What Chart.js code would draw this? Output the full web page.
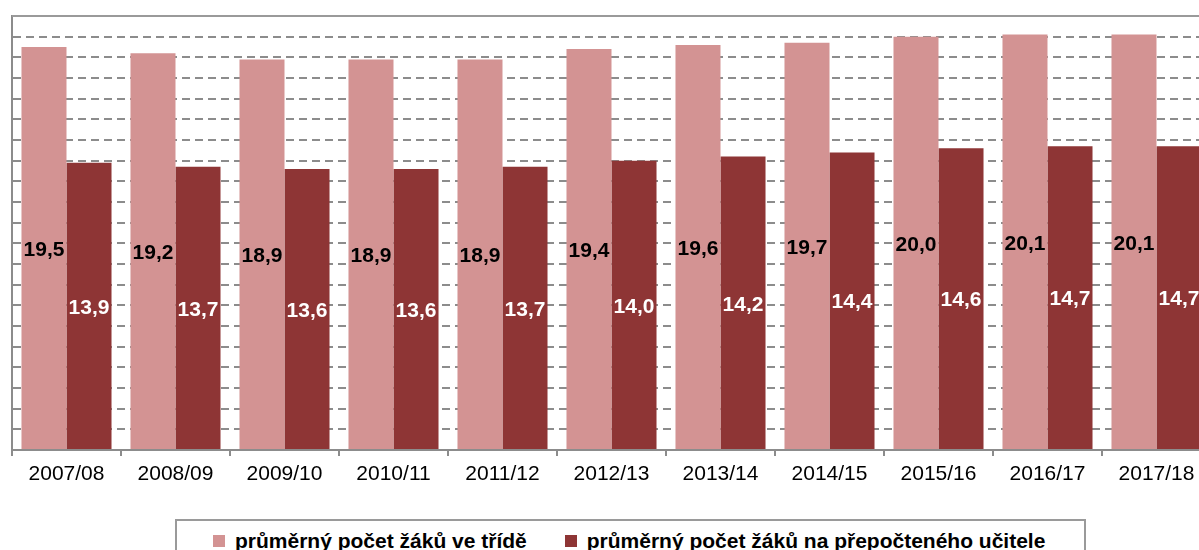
<!DOCTYPE html>
<html>
<head>
<meta charset="utf-8">
<script src="https://cdn.jsdelivr.net/npm/chart.js@4/dist/chart.umd.min.js"></script>
<style>
    html, body { margin: 0; padding: 0; background: #fff; overflow: hidden; width: 1199px; height: 550px; }
    #wrap { position: absolute; left: 0; top: 0; width: 1212px; height: 500px; }
    #legend {
        position: absolute; left: 175px; top: 519px; width: 911px; height: 40px;
        border: 2px solid #9a9a9a; box-sizing: border-box;
        display: flex; align-items: center; padding-left: 36px; padding-top: 4px;
        font-family: "Liberation Sans", Arial, sans-serif; font-weight: bold; font-size: 21px; color: #000;
    }
    #legend .item { display: flex; align-items: center; margin-right: 38px; white-space: nowrap; }
    #legend .box { width: 12px; height: 12px; margin-right: 10px; }
</style>
</head>
<body>
<div id="wrap"><canvas id="chart"></canvas></div>
<div id="legend"></div>
<script>
    // Data
    const years = ['2007/08', '2008/09', '2009/10', '2010/11', '2011/12', '2012/13',
        '2013/14', '2014/15', '2015/16', '2016/17', '2017/18'];
    const perClass = [19.5, 19.2, 18.9, 18.9, 18.9, 19.4, 19.6, 19.7, 20.0, 20.1, 20.1];
    const perTeacher = [13.9, 13.7, 13.6, 13.6, 13.7, 14.0, 14.2, 14.4, 14.6, 14.7, 14.7];
    const seriesNames = ['průměrný počet žáků ve třídě', 'průměrný počet žáků na přepočteného učitele'];
    const seriesColors = ['#d39393', '#8e3535'];
    const labelColors = ['#000000', '#ffffff'];

    // value labels in the middle of every bar
    const barLabels = {
        id: 'barLabels',
        afterDatasetsDraw: function (chart) {
            const ctx = chart.ctx;
            ctx.save();
            ctx.font = 'bold 21px "Liberation Sans", Arial, sans-serif';
            ctx.textAlign = 'center';
            ctx.textBaseline = 'middle';
            chart.data.datasets.forEach((ds, i) => {
                chart.getDatasetMeta(i).data.forEach((bar, j) => {
                    ctx.fillStyle = labelColors[i];
                    const txt = ds.data[j].toFixed(1).replace('.', ',');
                    ctx.fillText(txt, bar.x, (bar.y + bar.base) / 2 + 2);
                });
            });
            ctx.restore();
        }
    };

    // solid frame line on top of the plot
    const topLine = {
        id: 'topLine',
        afterDraw: function (chart) {
            const a = chart.chartArea;
            const ctx = chart.ctx;
            ctx.save();
            ctx.strokeStyle = '#9a9a9a';
            ctx.lineWidth = 2;
            ctx.beginPath();
            ctx.moveTo(a.left, a.top);
            ctx.lineTo(a.right, a.top);
            ctx.stroke();
            ctx.restore();
        }
    };

    new Chart(document.getElementById('chart'), {
        type: 'bar',
        data: {
            labels: years,
            datasets: [
                { label: seriesNames[0], data: perClass, backgroundColor: seriesColors[0] },
                { label: seriesNames[1], data: perTeacher, backgroundColor: seriesColors[1] },
            ]
        },
        options: {
            responsive: true,
            maintainAspectRatio: false,
            animation: false,
            layout: { padding: { left: 12, top: 16, right: 1, bottom: 0 } },
            datasets: { bar: { barPercentage: 1, categoryPercentage: 0.826 } },
            plugins: { legend: { display: false }, tooltip: { enabled: false } },
            scales: {
                x: {
                    afterFit: (axis) => { axis.height = 50; },
                    grid: { drawOnChartArea: false, drawTicks: true, tickLength: 6, color: '#8c8c8c', lineWidth: 2 },
                    border: { display: true, color: '#8c8c8c', width: 2 },
                    ticks: {
                        color: '#000',
                        padding: 6,
                        maxRotation: 0,
                        font: { family: '"Liberation Sans", Arial, sans-serif', size: 21 }
                    }
                },
                y: {
                    min: 0,
                    max: 21,
                    afterFit: (axis) => { axis.width = 0; },
                    grid: { drawTicks: false, color: '#8c8c8c', lineWidth: 2 },
                    border: { display: true, color: '#8c8c8c', width: 2, dash: [8, 5] },
                    ticks: { display: false, stepSize: 1 }
                }
            }
        },
        plugins: [barLabels, topLine]
    });

    // legend built from the series arrays
    const legend = document.getElementById('legend');
    seriesNames.forEach((name, i) => {
        const item = document.createElement('div');
        item.className = 'item';
        const box = document.createElement('span');
        box.className = 'box';
        box.style.background = seriesColors[i];
        const text = document.createElement('span');
        text.textContent = name;
        item.appendChild(box);
        item.appendChild(text);
        legend.appendChild(item);
    });
</script>
</body>
</html>
